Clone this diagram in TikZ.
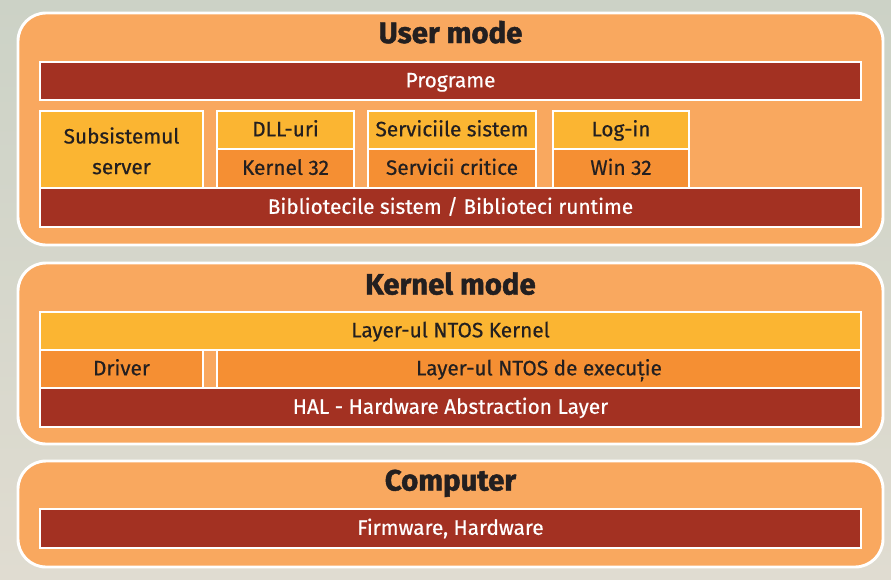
\documentclass[tikz,border=0pt]{standalone}
\usepackage{fontspec}
\setmainfont{Fira Sans}
\newfontfamily\lblfont{Fira Sans}[FakeBold=0.5]
\newfontfamily\ttlfont{Fira Sans Bold}[FakeBold=1.6]
\usetikzlibrary{positioning}
\definecolor{bgtop}{HTML}{CCD2C6}
\definecolor{bgbot}{HTML}{E0DCD1}
\definecolor{panel}{HTML}{F9A85F}
\definecolor{darkred}{HTML}{A33122}
\definecolor{yell}{HTML}{FBB532}
\definecolor{orng}{HTML}{F58F33}
\definecolor{ink}{HTML}{231F20}
\tikzset{
  lbl/.style={font=\lblfont\fontsize{15.6}{18}\selectfont, text height=1.6ex, text depth=0.45ex},
  nudge/.style={yshift=-1.7pt},
  nudgetwo/.style={yshift=-1pt},
  panelbox/.style={draw=white, line width=2.2pt, fill=panel, rounded corners=21},
  barbox/.style={draw=white, line width=1.3pt, fill=darkred, text=white, lbl},
  yelbox/.style={draw=white, line width=1.3pt, fill=yell, text=ink, lbl},
  orbox/.style={draw=white, line width=1.3pt, fill=orng, text=ink, lbl},
  twoline/.style={draw=white, line width=1.3pt, fill=yell, text=ink, align=center, font=\lblfont\fontsize{15.6}{23}\selectfont},
  filler/.style={draw=white, line width=1.3pt, fill=panel},
  titletext/.style={text=ink, anchor=base, inner sep=0pt, font=\ttlfont\fontsize{22}{25}\selectfont},
}
\begin{document}
\begin{tikzpicture}[x=0.75pt,y=-0.75pt]
\useasboundingbox (0,0) rectangle (891,579);
\shade[top color=bgtop, bottom color=bgbot] (0,0) rectangle (891,579);
% panels
\draw[panelbox] (18,13) rectangle (883,245);
\draw[panelbox] (18,263) rectangle (883,444);
\draw[panelbox] (18,461) rectangle (883,567);
% titles
\node[titletext] (t1) at (450.5,43) {User mode};
\node[titletext] (t2) at (450.5,294.5) {Kernel mode};
\node[titletext] (t3) at (450.5,490.5) {Computer};
% user mode
\path[barbox] (40,62) rectangle (861,100) node[midway,nudge] (prog) {Programe};
\path[twoline] (40,111) rectangle (203,188) node[midway,nudgetwo] (subs) {Subsistemul\\server};
\path[yelbox] (217,111) rectangle (354,149) node[midway,nudge] (dll) {DLL-uri};
\path[orbox] (217,149) rectangle (354,188) node[midway,nudge] (k32) {Kernel 32};
\path[yelbox] (368,111) rectangle (536,149) node[midway,nudge] (ss) {Serviciile sistem};
\path[orbox] (368,149) rectangle (536,188) node[midway,nudge] (sc) {Servicii critice};
\path[yelbox] (553,111) rectangle (689,149) node[midway,nudge] (login) {Log-in};
\path[orbox] (553,149) rectangle (689,188) node[midway,nudge] (w32) {Win 32};
\path[barbox] (40,188) rectangle (861,227) node[midway,nudge] (bib) {Bibliotecile sistem / Biblioteci runtime};
% kernel mode
\path[yelbox] (40,312) rectangle (861,350) node[midway,nudge] (ntk) {Layer-ul NTOS Kernel};
\path[orbox] (40,350) rectangle (203,388) node[midway,nudge] (drv) {Driver};
\path[filler] (203,350) rectangle (217,388);
\path[orbox] (217,350) rectangle (861,388) node[midway,nudge] (nte) {Layer-ul NTOS de execuție};
\path[barbox] (40,388) rectangle (861,427) node[midway,nudge] (hal) {HAL - Hardware Abstraction Layer};
% computer
\path[barbox] (40,509) rectangle (861,548) node[midway,nudge] (fw) {Firmware, Hardware};
\end{tikzpicture}
\end{document}
